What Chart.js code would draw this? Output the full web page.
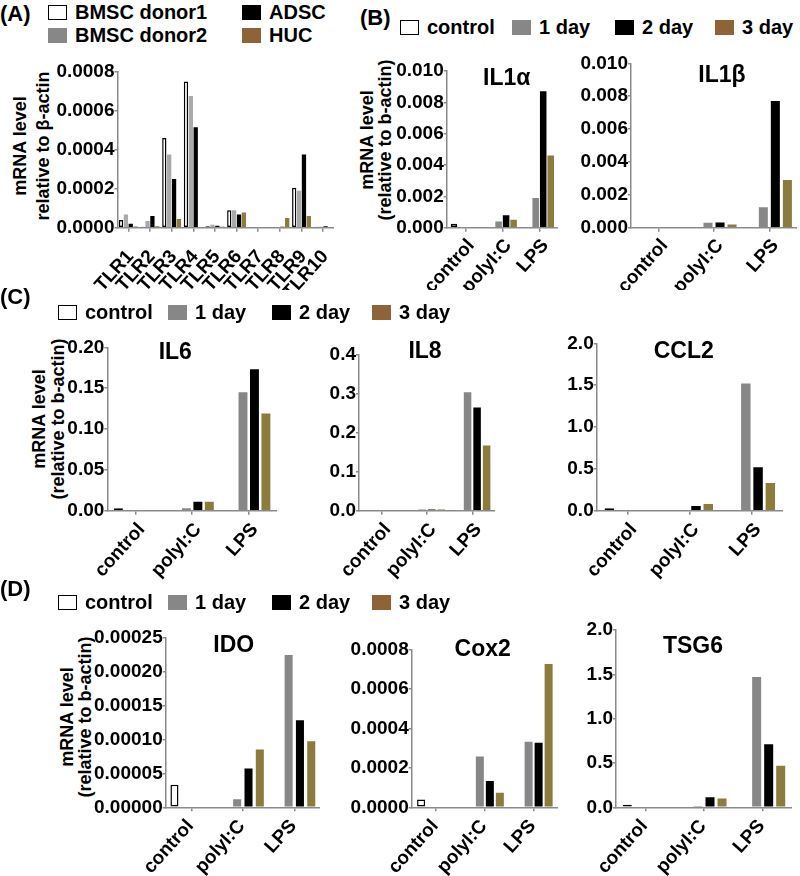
<!DOCTYPE html>
<html>
<head>
<meta charset="utf-8">
<script src="https://cdn.jsdelivr.net/npm/chart.js@4.4.1/dist/chart.umd.min.js"></script>
<style>
body{margin:0;background:#fff;}
#fig{position:relative;width:800px;height:876px;overflow:hidden;font-family:"Liberation Sans",Arial,sans-serif;font-weight:bold;color:#000;}
.box{position:absolute;}
.lab{position:absolute;font-size:22px;line-height:24px;}
.leg{position:absolute;display:flex;align-items:center;font-size:20px;height:24px;white-space:nowrap;}
.sw{width:19px;height:15px;margin-right:8px;box-sizing:border-box;}
.ytl{position:absolute;font-size:18px;line-height:18px;white-space:nowrap;transform:translate(-50%,-50%) rotate(-90deg);}
</style>
</head>
<body>
<div id="fig"></div>
<script>
// ---- panel A: TLR expression ----
const tlrLabels = ["TLR1","TLR2","TLR3","TLR4","TLR5","TLR6","TLR7","TLR8","TLR9","TLR10"];
const tlrSeries = ["BMSC donor1","BMSC donor2","ADSC","HUC"];
const bmscDonor1 = [0.00004, 0.000005, 0.00046, 0.00075, 0.000008, 0.00009, 0.000003, 0.000003, 0.000205, 0.000005];
const bmscDonor2 = [0.000068, 0.000035, 0.000375, 0.000675, 0.000015, 0.00009, 0.000003, 0.000003, 0.00019, 0.000005];
const adsc       = [0.00002, 0.00006, 0.00025, 0.000515, 0.00001, 0.000068, 0.000003, 0.000005, 0.000375, 0.000008];
const huc        = [0.000006, 0.000008, 0.000045, 0.000003, 0.000005, 0.000078, 0.000003, 0.00005, 0.00006, 0.000002];
const tlrTicks = [0, 0.0002, 0.0004, 0.0006, 0.0008];

// ---- panels B-D: values per [control, polyI:C, LPS] ----
const treatments = ["control","polyI:C","LPS"];
const dayNames = ["control","1 day","2 day","3 day"];

const il1aCtrl = [0.00025, null, null];
const il1aDay1 = [null, 0.0004, 0.0019];
const il1aDay2 = [null, 0.0008, 0.0087];
const il1aDay3 = [null, 0.0005, 0.0046];

const il1bCtrl = [0.00005, null, null];
const il1bDay1 = [null, 0.0003, 0.00124];
const il1bDay2 = [null, 0.00032, 0.0077];
const il1bDay3 = [null, 0.0002, 0.0029];

const il6Ctrl = [0.003, null, null];
const il6Day1 = [null, 0.003, 0.145];
const il6Day2 = [null, 0.011, 0.173];
const il6Day3 = [null, 0.011, 0.119];

const il8Ctrl = [0.002, null, null];
const il8Day1 = [null, 0.003, 0.303];
const il8Day2 = [null, 0.003, 0.264];
const il8Day3 = [null, 0.003, 0.167];

const ccl2Ctrl = [0.03, null, null];
const ccl2Day1 = [null, 0.008, 1.52];
const ccl2Day2 = [null, 0.056, 0.52];
const ccl2Day3 = [null, 0.08, 0.33];

const idoCtrl = [0.000033, null, null];
const idoDay1 = [null, 0.000012, 0.000224];
const idoDay2 = [null, 0.000057, 0.000128];
const idoDay3 = [null, 0.000085, 0.000097];

const cox2Ctrl = [0.00004, null, null];
const cox2Day1 = [null, 0.000257, 0.000332];
const cox2Day2 = [null, 0.000133, 0.000327];
const cox2Day3 = [null, 0.000074, 0.000726];

const tsg6Ctrl = [0.03, null, null];
const tsg6Day1 = [null, 0.015, 1.47];
const tsg6Day2 = [null, 0.113, 0.71];
const tsg6Day3 = [null, 0.1, 0.47];

const il1Ticks  = [0, 0.002, 0.004, 0.006, 0.008, 0.010];
const il6Ticks  = [0, 0.05, 0.10, 0.15, 0.20];
const il8Ticks  = [0, 0.1, 0.2, 0.3, 0.4];
const twoTicks  = [0, 0.5, 1.0, 1.5, 2.0];
const idoTicks  = [0, 0.00005, 0.0001, 0.00015, 0.0002, 0.00025];
const cox2Ticks = [0, 0.0002, 0.0004, 0.0006, 0.0008];

const yTitleA = ["mRNA level", "relative to \u03b2-actin"];
const yTitle  = ["mRNA level", "(relative to b-actin)"];

const GREY = "#878787", GREY_A = "#a9a9a9", OLIVE = "#8b7b3c", BROWN_KEY = "#8d6337", AXIS = "#8a8a8a";
const FONT = '"Liberation Sans", Arial, sans-serif';
Chart.defaults.font.family = FONT;
Chart.defaults.font.weight = "bold";
Chart.defaults.color = "#000";

const fig = document.getElementById("fig");

// gene name written inside the plot, near its top
const panelTitle = {
  id: "panelTitle",
  afterDraw(chart, args, o) {
    if (!o || !o.text) return;
    const {ctx, chartArea} = chart;
    ctx.save();
    ctx.font = "bold 23px " + FONT;
    ctx.fillStyle = "#000";
    ctx.textAlign = "center";
    ctx.textBaseline = "middle";
    ctx.fillText(o.text, chartArea.left + o.dx, chartArea.top + o.dy);
    ctx.restore();
  }
};

function label(text, x, y) {
  const d = document.createElement("div");
  d.className = "lab"; d.style.left = x + "px"; d.style.top = y + "px";
  d.textContent = text; fig.appendChild(d);
}
// two-line rotated y-axis title, each line placed by its centre
function yLabel(lines, xs, cy) {
  lines.forEach((t, i) => {
    const d = document.createElement("div");
    d.className = "ytl"; d.style.left = xs[i] + "px"; d.style.top = cy + "px";
    d.textContent = t; fig.appendChild(d);
  });
}
function legendItem(name, fill, x, y) {
  const d = document.createElement("div");
  d.className = "leg"; d.style.left = x + "px"; d.style.top = (y - 12) + "px";
  const s = document.createElement("span");
  s.className = "sw"; s.style.background = fill;
  if (fill === "#fff") s.style.border = "1.5px solid #000";
  d.appendChild(s); d.appendChild(document.createTextNode(name));
  fig.appendChild(d);
}

function daySets(c, d1, d2, d3) {
  return [
    {label: dayNames[0], data: c, backgroundColor: "#fff", borderColor: "#000", borderWidth: 1.5, borderSkipped: false},
    {label: dayNames[1], data: d1, backgroundColor: GREY},
    {label: dayNames[2], data: d2, backgroundColor: "#000"},
    {label: dayNames[3], data: d3, backgroundColor: OLIVE}
  ];
}

function barChart(box, labels, sets, yTicks, dec, opt) {
  const wrap = document.createElement("div");
  wrap.className = "box";
  wrap.style.left = box.left + "px"; wrap.style.top = box.top + "px";
  const cv = document.createElement("canvas");
  cv.width = box.width; cv.height = box.height;
  wrap.appendChild(cv); fig.appendChild(wrap);
  return new Chart(cv, {
    type: "bar",
    data: {labels, datasets: sets},
    plugins: [panelTitle],
    options: {
      responsive: false, animation: false, devicePixelRatio: 1,
      layout: {padding: {top: box.padTop, left: 0, right: 0, bottom: 0}},
      datasets: {bar: {categoryPercentage: opt.cat, barPercentage: opt.bar}},
      plugins: {legend: {display: false}, tooltip: {enabled: false}, panelTitle: opt.title || {}},
      scales: {
        x: {
          offset: true,
          grid: {offset: false, drawOnChartArea: false, tickLength: 4, color: AXIS, lineWidth: 1.5},
          border: {color: AXIS, width: 1.5},
          ticks: {autoSkip: false, minRotation: 48, maxRotation: 48, padding: opt.xPad, labelOffset: opt.xOff,
                  font: {size: 19, weight: "bold"}},
          afterFit(s) { s.height = box.xH; s.paddingLeft = 0; s.paddingRight = 0; }
        },
        y: {
          min: 0, max: yTicks[yTicks.length - 1],
          afterBuildTicks(s) { s.ticks = yTicks.map(v => ({value: v})); },
          grid: {drawOnChartArea: false, tickLength: 3, color: AXIS, lineWidth: 1.5},
          border: {color: AXIS, width: 1.5},
          ticks: {padding: 0, font: {size: 19, weight: "bold"}, callback: v => Number(v).toFixed(dec)},
          afterFit(s) { s.width = box.yW; s.paddingTop = 0; s.paddingBottom = 0; }
        }
      }
    }
  });
}

// ---- panel A ----
label("(A)", 0, 2);
legendItem(tlrSeries[0], "#fff", 48, 12);
legendItem(tlrSeries[2], "#000", 242, 12);
legendItem(tlrSeries[1], GREY, 48, 35);
legendItem(tlrSeries[3], BROWN_KEY, 242, 35);
yLabel(yTitleA, [20, 43], 146);

barChart({left: 0, top: 50, width: 334, height: 240, yW: 117.5, padTop: 21.7, xH: 62.3},
  tlrLabels,
  [
    {label: tlrSeries[0], data: bmscDonor1, backgroundColor: "#fff", borderColor: "#000", borderWidth: 1.5, borderSkipped: false},
    {label: tlrSeries[1], data: bmscDonor2, backgroundColor: GREY_A},
    {label: tlrSeries[2], data: adsc, backgroundColor: "#000"},
    {label: tlrSeries[3], data: huc, backgroundColor: OLIVE}
  ],
  tlrTicks, 4, {cat: 0.9, bar: 0.88, xPad: 14, xOff: 2});

// ---- panel B ----
label("(B)", 360, 6);
const keyFills = ["#fff", GREY, "#000", BROWN_KEY];
[400, 512, 615, 715].forEach((x, i) => legendItem(dayNames[i], keyFills[i], x, 27));
yLabel(yTitle, [367, 385], 140);

barChart({left: 355, top: 50, width: 203, height: 240, yW: 91.7, padTop: 21, xH: 62.3},
  treatments, daySets(il1aCtrl, il1aDay1, il1aDay2, il1aDay3), il1Ticks, 3,
  {cat: 0.81, bar: 0.87, xPad: 3, xOff: 6, title: {text: "IL1\u03b1", dx: 60, dy: 8}});

barChart({left: 570, top: 40, width: 227, height: 250, yW: 61, padTop: 23.3, xH: 62.3},
  treatments, daySets(il1bCtrl, il1bDay1, il1bDay2, il1bDay3), il1Ticks, 3,
  {cat: 0.87, bar: 0.75, xPad: 3, xOff: 6, title: {text: "IL1\u03b2", dx: 91, dy: 12.7}});

// ---- panel C ----
label("(C)", 0, 285);
[58, 168, 272, 372].forEach((x, i) => legendItem(dayNames[i], keyFills[i], x, 312));
yLabel(yTitle, [39, 58], 419);

barChart({left: 20, top: 325, width: 257, height: 265, yW: 87.3, padTop: 22.3, xH: 79.3},
  treatments, daySets(il6Ctrl, il6Day1, il6Day2, il6Day3), il6Ticks, 2,
  {cat: 0.81, bar: 0.78, xPad: 4, xOff: 6, title: {text: "IL6", dx: 68, dy: 5}});

barChart({left: 290, top: 325, width: 205, height: 265, yW: 69, padTop: 29.3, xH: 79.3},
  treatments, daySets(il8Ctrl, il8Day1, il8Day2, il8Day3), il8Ticks, 1,
  {cat: 0.84, bar: 0.79, xPad: 4, xOff: 6, title: {text: "IL8", dx: 66, dy: -3}});

barChart({left: 520, top: 325, width: 263, height: 265, yW: 76.7, padTop: 18.3, xH: 79.3},
  treatments, daySets(ccl2Ctrl, ccl2Day1, ccl2Day2, ccl2Day3), twoTicks, 1,
  {cat: 0.79, bar: 0.77, xPad: 4, xOff: 6, title: {text: "CCL2", dx: 87, dy: 8}});

// ---- panel D ----
label("(D)", 0, 577);
[58, 168, 272, 372].forEach((x, i) => legendItem(dayNames[i], keyFills[i], x, 602));
yLabel(yTitle, [67, 85], 717);

barChart({left: 45, top: 615, width: 275, height: 261, yW: 120.7, padTop: 22.3, xH: 68.7},
  treatments, daySets(idoCtrl, idoDay1, idoDay2, idoDay3), idoTicks, 5,
  {cat: 0.88, bar: 0.71, xPad: 4, xOff: -1, title: {text: "IDO", dx: 68, dy: 8}});

barChart({left: 330, top: 615, width: 228, height: 261, yW: 81.7, padTop: 34.3, xH: 68.7},
  treatments, daySets(cox2Ctrl, cox2Day1, cox2Day2, cox2Day3), cox2Ticks, 4,
  {cat: 0.82, bar: 0.8, xPad: 4, xOff: -1, title: {text: "Cox2", dx: 71, dy: 0}});

barChart({left: 560, top: 615, width: 232, height: 261, yW: 56, padTop: 15, xH: 68.7},
  treatments, daySets(tsg6Ctrl, tsg6Day1, tsg6Day2, tsg6Day3), twoTicks, 1,
  {cat: 0.82, bar: 0.75, xPad: 4, xOff: -1, title: {text: "TSG6", dx: 77, dy: 17}});
</script>
</body>
</html>
